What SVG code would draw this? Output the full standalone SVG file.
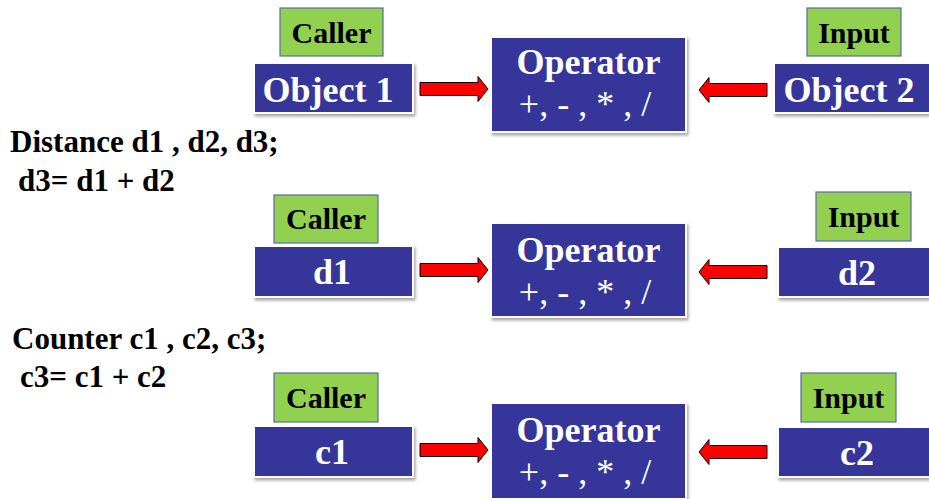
<svg xmlns="http://www.w3.org/2000/svg" width="929" height="499" viewBox="0 0 929 499">
<defs>
<filter id="sh" x="-10%" y="-10%" width="125%" height="130%">
<feDropShadow dx="1.5" dy="2.5" stdDeviation="1.5" flood-color="#000" flood-opacity="0.35"/>
</filter>
<path id="ar" d="M0,-6.5 L58,-6.5 L58,-12.5 L68,0 L58,12.5 L58,6.5 L0,6.5 Z"/>
</defs>
<style>
.blue{fill:#35359a;stroke:#fff;stroke-width:2;filter:url(#sh)}
.green{fill:#92d050;stroke:#5a6aa8;stroke-width:1.2}
text{font-family:'Times New Roman','Liberation Serif',Tinos,'DejaVu Serif',serif}
.t{font-weight:bold}
.w{fill:#fff;text-anchor:middle}
.k{fill:#000}
.lab{font-size:30px;text-anchor:middle}
.big{font-size:36px}
.ops{font-size:36px;fill:#fff;text-anchor:middle}
.arr{fill:#ff0000;stroke:#000;stroke-width:1}
</style>
<rect width="929" height="499" fill="#fff"/>

<g id="text-distance">
<text class="t k" x="10" y="152" font-size="31">Distance d1 , d2, d3;</text>
<text class="t k" x="18" y="191" font-size="31">d3= d1 + d2</text>
</g>
<g id="text-counter">
<text class="t k" x="12" y="349" font-size="31">Counter c1 , c2, c3;</text>
<text class="t k" x="20" y="387" font-size="31">c3= c1 + c2</text>
</g>

<!-- Row 1 -->
<g id="caller1"><rect class="green" x="280" y="8" width="103" height="48"/><text class="t k lab" x="331.5" y="43">Caller</text></g>
<g id="object1"><rect class="blue" x="254" y="63" width="159" height="50"/><text class="t w big" x="328" y="102">Object 1</text></g>
<g id="operator1"><rect class="blue" x="491" y="37" width="195" height="95"/><text class="t w big" x="588.5" y="74">Operator</text><text class="ops" x="585" y="116">+, - , * , /</text></g>
<g id="input1"><rect class="green" x="807" y="8" width="94" height="48"/><text class="t k lab" x="854" y="43">Input</text></g>
<g id="object2"><rect class="blue" x="774" y="63" width="157" height="50"/><text class="t w big" x="849" y="102">Object 2</text></g>

<!-- Row 2 -->
<g id="caller2"><rect class="green" x="274" y="195" width="104" height="48"/><text class="t k lab" x="326" y="229">Caller</text></g>
<g id="d1"><rect class="blue" x="254" y="246" width="159" height="51"/><text class="t w big" x="332" y="284">d1</text></g>
<g id="operator2"><rect class="blue" x="491" y="223" width="195" height="94"/><text class="t w big" x="588.5" y="262">Operator</text><text class="ops" x="585" y="304">+, - , * , /</text></g>
<g id="input2"><rect class="green" x="816" y="192" width="95" height="49"/><text class="t k lab" x="863.5" y="227">Input</text></g>
<g id="d2"><rect class="blue" x="778" y="247" width="153" height="50"/><text class="t w big" x="857" y="285">d2</text></g>

<!-- Row 3 -->
<g id="caller3"><rect class="green" x="274" y="373" width="104" height="49"/><text class="t k lab" x="326" y="408">Caller</text></g>
<g id="c1"><rect class="blue" x="254" y="426" width="159" height="51"/><text class="t w big" x="332" y="464">c1</text></g>
<g id="operator3"><rect class="blue" x="491" y="403" width="195" height="96"/><text class="t w big" x="588.5" y="442">Operator</text><text class="ops" x="585" y="484">+, - , * , /</text></g>
<g id="input3"><rect class="green" x="801" y="373" width="95" height="49"/><text class="t k lab" x="848.5" y="408">Input</text></g>
<g id="c2"><rect class="blue" x="778" y="427" width="153" height="50"/><text class="t w big" x="857" y="465">c2</text></g>

<g id="connectors">
<use href="#ar" class="arr" transform="translate(420,89)"/>
<use href="#ar" class="arr" transform="translate(767,90) scale(-1,1)"/>
<use href="#ar" class="arr" transform="translate(420,270)"/>
<use href="#ar" class="arr" transform="translate(767,272) scale(-1,1)"/>
<use href="#ar" class="arr" transform="translate(420,450)"/>
<use href="#ar" class="arr" transform="translate(767,452) scale(-1,1)"/>
</g>
</svg>
